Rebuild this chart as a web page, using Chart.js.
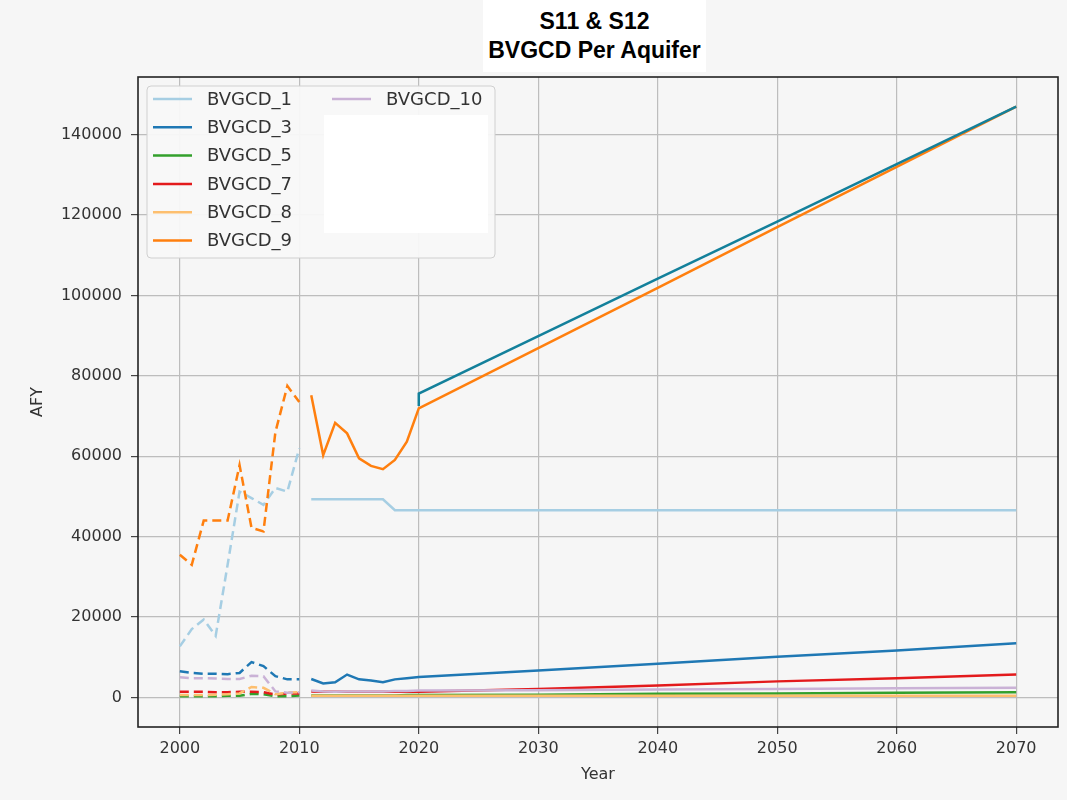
<!DOCTYPE html>
<html>
<head>
<meta charset="utf-8">
<script src="https://cdn.jsdelivr.net/npm/chart.js@4"></script>
<style>
  body { margin: 0; background: #f6f6f6; }
  #wrap { position: relative; width: 1067px; height: 800px; }
  #title {
    position: absolute; left: 483px; top: 0; width: 223px; height: 72px;
    background: #fff; text-align: center;
    font: bold 23px "Liberation Sans", Arial, sans-serif; line-height: 29px;
    padding-top: 7px; box-sizing: border-box; color: #000;
  }
</style>
</head>
<body>
<div id="wrap">
  <canvas id="myChart" width="1067" height="800"></canvas>
  <div id="title">S11 &amp; S12<br>BVGCD Per Aquifer</div>
</div>
<script>
// historical (dashed) and projected (solid) years
const histYears = [2000, 2001, 2002, 2003, 2004, 2005, 2006, 2007, 2008, 2009, 2010];
const projYears = [2011, 2012, 2013, 2014, 2015, 2016, 2017, 2018, 2019, 2020, 2030, 2040, 2050, 2060, 2070];
const extraYears = [2020, 2020, 2030, 2040, 2050, 2060, 2070];

const seriesNames = ["BVGCD_1", "BVGCD_3", "BVGCD_5", "BVGCD_7", "BVGCD_8", "BVGCD_9", "BVGCD_10"];
const seriesColors = ["#a6cee3", "#1f78b4", "#33a02c", "#e31a1c", "#fdbf6f", "#ff7f0e", "#cab2d6"];

const hist1 = [12700, 17000, 19400, 15300, 33000, 51200, 49600, 47900, 52100, 51200, 62000];
const proj1 = [49300, 49300, 49300, 49300, 49300, 49300, 49300, 46600, 46600, 46600, 46600, 46600, 46600, 46600, 46600];
const hist3 = [6500, 6100, 5900, 5900, 5800, 6100, 8800, 7800, 5300, 4500, 4500];
const proj3 = [4600, 3500, 3800, 5700, 4500, 4200, 3800, 4500, 4800, 5100, 6700, 8400, 10100, 11700, 13500];
const hist5 = [300, 300, 300, 300, 400, 400, 900, 800, 300, 300, 500];
const proj5 = [500, 500, 500, 500, 500, 500, 500, 500, 600, 600, 700, 900, 1000, 1200, 1300];
const hist7 = [1400, 1400, 1400, 1300, 1300, 1400, 1400, 1300, 700, 1000, 1000];
const proj7 = [1500, 1400, 1400, 1400, 1400, 1400, 1400, 1400, 1400, 1400, 2100, 3000, 4000, 4800, 5700];
const hist8 = [600, 600, 600, 700, 800, 1000, 2600, 2400, 800, 1200, 1300];
const proj8 = [400, 400, 400, 400, 400, 400, 400, 400, 400, 400, 400, 400, 400, 400, 400];
const hist9 = [35500, 33000, 44000, 44000, 44000, 57800, 42200, 41300, 66000, 77500, 73500];
const proj9 = [75200, 60300, 68300, 65700, 59500, 57600, 56800, 59100, 63600, 71900, 86900, 101900, 117000, 132000, 147000];
const hist10 = [5000, 4800, 4800, 4700, 4600, 4600, 5400, 5300, 1500, 1200, 1300];
const proj10 = [1700, 1500, 1400, 1500, 1500, 1500, 1500, 1600, 1600, 1700, 1800, 2000, 2100, 2300, 2400];
// series hidden behind the white patch in the legend
const extraValues = [72500, 75600, 89900, 104200, 118400, 132700, 147000];

const histValues = [hist1, hist3, hist5, hist7, hist8, hist9, hist10];
const projValues = [proj1, proj3, proj5, proj7, proj8, proj9, proj10];

const yTicks = [0, 20000, 40000, 60000, 80000, 100000, 120000, 140000];

const toXY = (xs, ys) => xs.map((x, i) => ({ x: x, y: ys[i] }));

const datasets = [];
seriesNames.forEach((name, i) => {
  datasets.push({
    label: name, data: toXY(histYears, histValues[i]),
    borderColor: seriesColors[i], borderDash: [9, 5], borderWidth: 2.5,
    pointRadius: 0, order: 20 - i
  });
  datasets.push({
    label: name, data: toXY(projYears, projValues[i]),
    borderColor: seriesColors[i], borderWidth: 2.5,
    pointRadius: 0, order: 20 - i
  });
});
datasets.push({
  label: "", data: toXY(extraYears, extraValues),
  borderColor: "#13809b", borderWidth: 2.5, pointRadius: 0, order: 0
});

const frameAndLegend = {
  id: "frameAndLegend",
  beforeDraw(chart) {
    const { ctx, chartArea: a } = chart;
    ctx.save();
    ctx.fillStyle = "#f6f6f6";
    ctx.fillRect(a.left, a.top, a.right - a.left, a.bottom - a.top);
    ctx.restore();
  },
  afterDraw(chart) {
    const { ctx, chartArea: a } = chart;
    ctx.save();
    ctx.strokeStyle = "#222";
    ctx.lineWidth = 1.6;
    ctx.strokeRect(a.left, a.top, a.right - a.left, a.bottom - a.top);

    // legend box, two columns like matplotlib
    ctx.fillStyle = "rgba(248,248,248,0.95)";
    ctx.strokeStyle = "#d0d0d0";
    ctx.lineWidth = 1;
    ctx.beginPath();
    ctx.roundRect(147, 86, 348, 172, 4);
    ctx.fill();
    ctx.stroke();

    ctx.font = '18px "DejaVu Sans"';
    ctx.textBaseline = "middle";
    ctx.fillStyle = "#333";
    const rowH = 28.3;
    seriesNames.forEach((name, i) => {
      const col = i < 6 ? 0 : 1;
      const row = i < 6 ? i : i - 6;
      const x0 = col === 0 ? 153 : 332;
      const y = 99 + row * rowH;
      ctx.strokeStyle = seriesColors[i];
      ctx.lineWidth = 2.5;
      ctx.beginPath();
      ctx.moveTo(x0, y);
      ctx.lineTo(x0 + 39, y);
      ctx.stroke();
      ctx.fillText(name, x0 + 54, y + 1);
    });
    // white patch that hides the rest of the second column
    ctx.fillStyle = "#fff";
    ctx.fillRect(324, 115, 164, 118);
    ctx.restore();
  }
};

new Chart(document.getElementById("myChart"), {
  type: "line",
  data: { datasets: datasets },
  options: {
    responsive: false,
    animation: false,
    layout: { padding: { top: 77, right: 9, left: 0, bottom: 0 } },
    plugins: { legend: { display: false }, tooltip: { enabled: false } },
    elements: { line: { tension: 0 } },
    scales: {
      x: {
        type: "linear", min: 1996.5, max: 2073.5,
        afterFit: (s) => { s.height = 73; },
        border: { display: false },
        grid: { color: "#bdbdbd", lineWidth: 1.2, tickColor: "#444", tickLength: 7 },
        ticks: {
          stepSize: 10, includeBounds: false, padding: 5, color: "#333",
          font: { family: "DejaVu Sans", size: 16 },
          callback: (v) => String(v)
        },
        title: { display: true, text: "Year", color: "#333", padding: { bottom: 16 },
          font: { family: "DejaVu Sans", size: 16 } }
      },
      y: {
        min: -7350, max: 154350,
        afterFit: (s) => { s.width = 138; },
        afterBuildTicks: (s) => { s.ticks = yTicks.map((v) => ({ value: v })); },
        border: { display: false },
        grid: { color: "#bdbdbd", lineWidth: 1.2, tickColor: "#444", tickLength: 7 },
        ticks: {
          padding: 9, color: "#333",
          font: { family: "DejaVu Sans", size: 16 },
          callback: (v) => String(v)
        },
        title: { display: true, text: "AFY", color: "#333", padding: { top: 28 },
          font: { family: "DejaVu Sans", size: 16 } }
      }
    }
  },
  plugins: [frameAndLegend]
});
</script>
</body>
</html>
